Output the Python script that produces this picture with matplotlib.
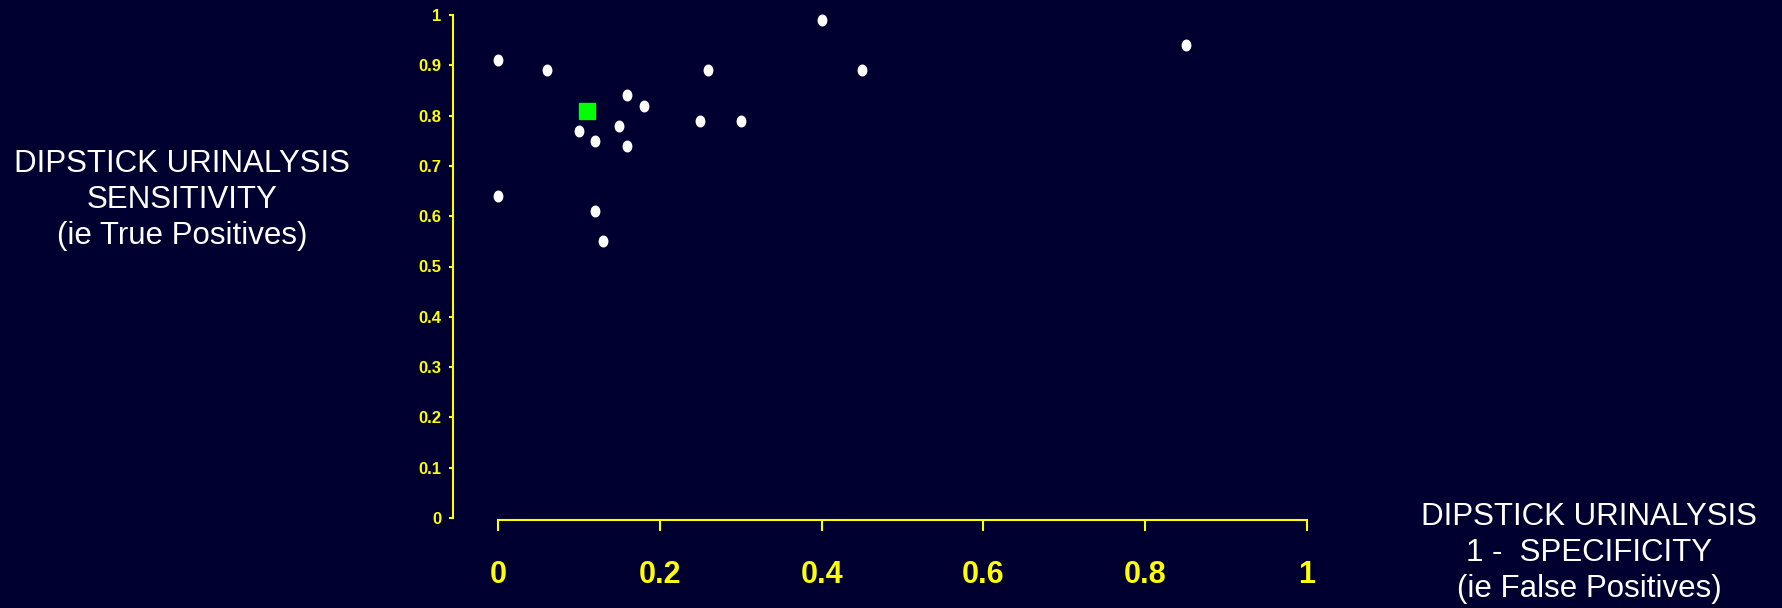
import matplotlib
matplotlib.use("Agg")
import matplotlib.pyplot as plt
from matplotlib.path import Path
from matplotlib.transforms import Affine2D
import numpy as np

# Data: (1 - specificity, sensitivity)
fpr = [0.00, 0.06, 0.16, 0.18, 0.15, 0.10, 0.12, 0.16, 0.25, 0.30, 0.26,
       0.00, 0.12, 0.13, 0.40, 0.45, 0.85]
sens = [0.91, 0.89, 0.84, 0.82, 0.78, 0.77, 0.75, 0.74, 0.79, 0.79, 0.89,
        0.64, 0.61, 0.55, 0.99, 0.89, 0.94]
pooled_fpr = [0.11]
pooled_sens = [0.81]

x_ticks = [0, 0.2, 0.4, 0.6, 0.8, 1]
x_ticklabels = ["0", "0.2", "0.4", "0.6", "0.8", "1"]
y_ticks = [0, 0.1, 0.2, 0.3, 0.4, 0.5, 0.6, 0.7, 0.8, 0.9, 1]
y_ticklabels = ["0", "0.1", "0.2", "0.3", "0.4", "0.5", "0.6", "0.7", "0.8", "0.9", "1"]

BG = "#000030"
YEL = "#FFFF00"

W, H = 1782, 608
fig = plt.figure(figsize=(W / 100, H / 100), dpi=100, facecolor=BG)
ax = fig.add_axes([453 / W, (H - 518) / H, (1307 - 453) / W, (518 - 15) / H])
ax.set_facecolor(BG)
ax.set_xlim(-0.0556, 1.0)
ax.set_ylim(0, 1)

ellipse = Path.unit_circle().transformed(Affine2D().scale(0.8, 1.0))
ax.plot(fpr, sens, linestyle="none", marker=ellipse, ms=7.6,
        mfc="white", mec="white", clip_on=False)
ax.plot(pooled_fpr, pooled_sens, linestyle="none", marker="s", ms=12,
        mfc="#00FF00", mec="#00FF00", clip_on=False)

for s in ["top", "right"]:
    ax.spines[s].set_visible(False)
ax.spines["left"].set_color(YEL)
ax.spines["bottom"].set_color(YEL)
ax.spines["left"].set_linewidth(1.5)
ax.spines["bottom"].set_linewidth(1.5)
ax.spines["left"].set_bounds(0, 1)
ax.spines["bottom"].set_bounds(0, 1)
ax.spines["bottom"].set_position(("outward", 1.5))

tick_font = ["Liberation Sans", "DejaVu Sans"]
ax.set_xticks(x_ticks)
ax.set_xticklabels(x_ticklabels, family=tick_font, fontweight="bold",
                   fontsize=22, color=YEL)
ax.set_yticks(y_ticks)
ax.set_yticklabels(y_ticklabels, family=tick_font, fontweight="bold",
                   fontsize=12, color=YEL)
ax.tick_params(axis="x", direction="out", length=8, width=1.5, color=YEL, pad=21)
ax.tick_params(axis="y", direction="out", length=3, width=1.5, color=YEL, pad=5.5)

lab_font = ["Liberation Sans", "DejaVu Sans"]
fig.text(182 / W, (H - 200) / H,
         "DIPSTICK URINALYSIS\nSENSITIVITY\n(ie True Positives)",
         ha="center", va="center", color="white", fontsize=22.5,
         family=lab_font, linespacing=1.26, multialignment="center")
fig.text(1589 / W, (H - 553) / H,
         "DIPSTICK URINALYSIS\n1 -  SPECIFICITY\n(ie False Positives)",
         ha="center", va="center", color="white", fontsize=22.5,
         family=lab_font, linespacing=1.26, multialignment="center")

fig.savefig("out.png", dpi=100, facecolor=BG)
